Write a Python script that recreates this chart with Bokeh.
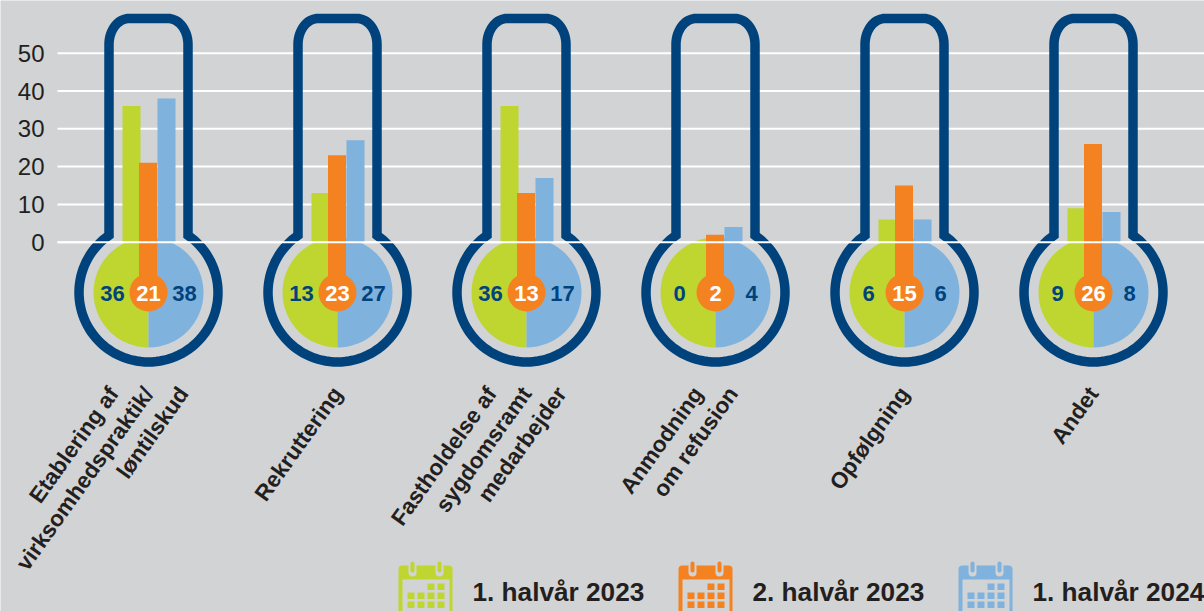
import math
from bokeh.plotting import figure
from bokeh.models import Range1d, FixedTicker, Label, ColumnDataSource
from bokeh.core.properties import value
from bokeh.embed import file_html
from bokeh.resources import INLINE

categories = [
    ["Etablering af", "virksomhedspraktik/", "løntilskud"],
    ["Rekruttering"],
    ["Fastholdelse af", "sygdomsramt", "medarbejder"],
    ["Anmodning", "om refusion"],
    ["Opfølgning"],
    ["Andet"],
]
halvaar_1_2023 = [36, 13, 36, 0, 6, 9]
halvaar_2_2023 = [21, 23, 13, 2, 15, 26]
halvaar_1_2024 = [38, 27, 17, 4, 6, 8]
series_names = ["1. halvår 2023", "2. halvår 2023", "1. halvår 2024"]
y_ticks = [0, 10, 20, 30, 40, 50]

BG = "#d1d3d5"
GREEN = "#bed62f"
ORANGE = "#f58220"
BLUE = "#7fb2dc"
NAVY = "#00437c"
INK = "#231f20"
FONT = "Liberation Sans"

W, H = 1204, 611
GRID_LEFT = 57
Y0 = 241.7
PX_PER_UNIT = 3.78


def Y(px):
    """Reference pixel row to value on the y scale."""
    return (Y0 - px) / PX_PER_UNIT


p = figure(
    width=W, height=H,
    x_range=Range1d(0, W), y_range=Range1d(Y(H), Y(0)),
    output_backend="svg", toolbar_location=None, tools="",
    min_border_left=0, min_border_right=0, min_border_top=0, min_border_bottom=0,
    background_fill_color=BG, border_fill_color=BG, outline_line_color=None,
)
p.xaxis.visible = False
p.xgrid.visible = False
p.yaxis.ticker = FixedTicker(ticks=y_ticks)
p.yaxis.axis_line_color = None
p.yaxis.major_tick_line_color = None
p.yaxis.minor_tick_line_color = None
p.yaxis.major_label_standoff = -50
p.yaxis.major_label_text_font = FONT
p.yaxis.major_label_text_font_size = "24px"
p.yaxis.major_label_text_color = INK
p.ygrid.visible = False
p.segment([GRID_LEFT] * 6, y_ticks, [W] * 6, y_ticks, line_color="white", line_width=2)

CENTER0, STEP = 148, 189
centers = [CENTER0 + STEP * i for i in range(len(categories))]
BULB_Y = 292
BAR_W = 18

# bulb halves
bulb = ColumnDataSource(dict(x=centers, y=[Y(BULB_Y)] * len(centers)))
p.wedge("x", "y", radius=55, radius_units="screen", start_angle=math.pi / 2, end_angle=3 * math.pi / 2,
        fill_color=GREEN, line_color=None, source=bulb)
p.wedge("x", "y", radius=55, radius_units="screen", start_angle=-math.pi / 2, end_angle=math.pi / 2,
        fill_color=BLUE, line_color=None, source=bulb)

# bars
p.vbar([c - 17 for c in centers], width=BAR_W, bottom=0, top=halvaar_1_2023, fill_color=GREEN, line_color=None)
p.vbar([c + 18 for c in centers], width=BAR_W, bottom=0, top=halvaar_1_2024, fill_color=BLUE, line_color=None)
p.vbar([c - 0.5 for c in centers], width=BAR_W, bottom=Y(BULB_Y), top=halvaar_2_2023, fill_color=ORANGE, line_color=None)
p.scatter(centers, [Y(BULB_Y)] * len(centers), size=38, marker="circle", fill_color=ORANGE, line_color=None)

# thermometer outline (centre line of the stroke)
R = 69.5
TUBE = 39.5
TOP = 18.0
RX, RY = 20.0, 26.0
for cx in centers:
    xs, ys = [], []
    a0 = math.asin(TUBE / R)
    n = 90
    for k in range(n + 1):
        a = a0 + (2 * math.pi - 2 * a0) * k / n
        xs.append(cx + R * math.sin(a))
        ys.append(BULB_Y - R * math.cos(a))
    for k in range(21):
        a = math.pi / 2 * k / 20
        xs.append(cx - TUBE + RX - RX * math.cos(a))
        ys.append(TOP + RY - RY * math.sin(a))
    for k in range(21):
        a = math.pi / 2 * k / 20
        xs.append(cx + TUBE - RX + RX * math.sin(a))
        ys.append(TOP + RY - RY * math.cos(a))
    p.patch(xs, [Y(v) for v in ys], fill_color=None, line_color=NAVY, line_width=9.5, line_join="miter")

# zero line lies over everything
p.segment([GRID_LEFT], [0], [W], [0], line_color="white", line_width=2)

# values in the bulbs
for dx, vals, col in ((-36, halvaar_1_2023, NAVY), (0, halvaar_2_2023, "white"), (36, halvaar_1_2024, NAVY)):
    p.text([c + dx for c in centers], [Y(BULB_Y + 1)] * 6, text=[str(v) for v in vals],
           text_font=value(FONT), text_font_style="bold", text_font_size="22px",
           text_color=col, text_align="center", text_baseline="middle")

# rotated category labels
ANGLE = math.radians(54.5)
for cx, lines in zip(centers, categories):
    n = len(lines)
    for i, line in enumerate(lines):
        p.add_layout(Label(
            x=cx + (i - (n - 1) / 2) * 35, y=Y(389), text=line, angle=ANGLE,
            text_align="right", text_baseline="middle",
            text_font=FONT, text_font_style="bold", text_font_size="22.5px", text_color=INK,
        ))

# legend with calendar icons
for j, (name, col) in enumerate(zip(series_names, [GREEN, ORANGE, BLUE])):
    ox = 398 + 280 * j
    p.quad(left=[ox], right=[ox + 54], top=[Y(565)], bottom=[Y(H + 12)], fill_color=col, line_color=None, border_radius=4)
    p.quad(left=[ox + 4], right=[ox + 51], top=[Y(579)], bottom=[Y(H + 12)], fill_color=BG, line_color=None)
    for rx in (14, 41):
        p.line([ox + rx, ox + rx], [Y(566), Y(572)], line_color=BG, line_width=8, line_cap="round")
        p.line([ox + rx, ox + rx], [Y(563), Y(570)], line_color=col, line_width=4, line_cap="round")
    cols = [9, 19, 29, 39]
    for r, ry in enumerate((583, 592, 601)):
        for c, cxx in enumerate(cols):
            if r == 0 and c < 2:
                continue
            p.quad(left=[ox + cxx], right=[ox + cxx + 7], top=[Y(ry)], bottom=[Y(ry + 6.5)], fill_color=col, line_color=None)
    p.add_layout(Label(
        x=ox + 74, y=Y(591), text=name, text_align="left", text_baseline="middle",
        text_font=FONT, text_font_style="bold", text_font_size="26.2px", text_color=INK,
    ))

open("out.html", "w").write(file_html(p, INLINE))
